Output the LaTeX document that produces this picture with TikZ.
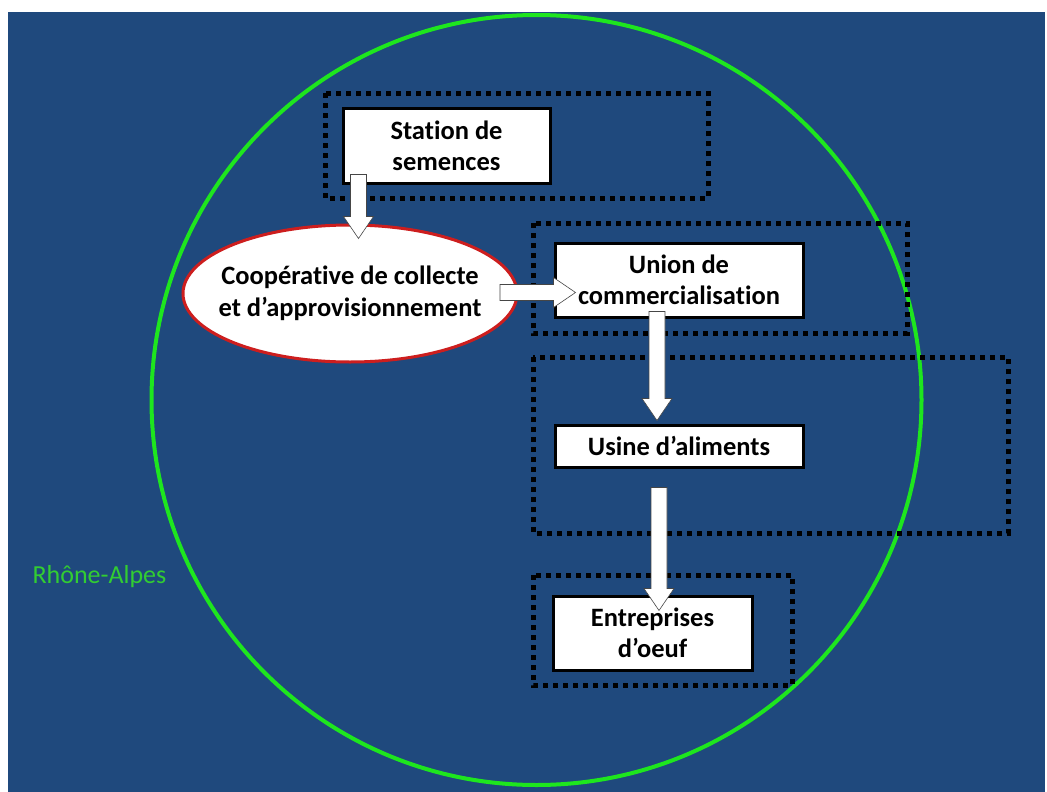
\documentclass[tikz,border=0pt]{standalone}
\usepackage{fontspec}
\setmainfont{Carlito}[RawFeature=-liga]
\usetikzlibrary{calc,shapes.geometric}
\definecolor{slidebg}{RGB}{31,73,125}
\definecolor{regiongreen}{RGB}{30,230,30}
\definecolor{labelgreen}{RGB}{50,205,50}
\definecolor{ovalred}{RGB}{205,30,30}
\definecolor{arrowgrey}{RGB}{70,70,70}

\tikzset{
  actor/.style={draw=black, line width=3pt, fill=white, align=center,
    font=\bfseries\fontsize{26.5}{31}\selectfont, inner sep=0pt},
  oval/.style={ellipse, draw=ovalred, line width=3pt, fill=white, align=center,
    font=\bfseries\fontsize{26.5}{32}\selectfont, inner xsep=-25pt, inner ysep=0pt},
  frame/.style={draw=black, line width=5pt, dash pattern=on 5pt off 5pt},
  blockarrow/.style={fill=white, draw=arrowgrey, line width=0.6pt, line join=miter},
}

% block arrow from #1 to the tip #2
\newcommand\blockarrow[2]{%
  \path (#1) coordinate (ba s) (#2) coordinate (ba e)
    ($(ba e)!22pt!(ba s)$) coordinate (ba h);
  \draw[blockarrow] ($(ba s)!8pt!90:(ba e)$) -- ($(ba h)!8pt!90:(ba e)$)
    -- ($(ba h)!15pt!90:(ba e)$) -- (ba e) -- ($(ba h)!15pt!-90:(ba e)$)
    -- ($(ba h)!8pt!-90:(ba e)$) -- ($(ba s)!8pt!-90:(ba e)$) -- cycle;}

\begin{document}
\begin{tikzpicture}[x=1pt,y=-1pt]
    \useasboundingbox (0,0) rectangle (1047,792);
    \fill[slidebg] (8,12) rectangle (1045,792);

    % region
    \draw[regiongreen, line width=4pt] (536.5,400) circle [radius=385];
    \node[text=labelgreen, font=\fontsize{26}{30}\selectfont, anchor=west] (region) at (29,577) {Rhône-Alpes};

    % dotted groups
    \draw[frame] (325,93) rectangle (708,198);
    \draw[frame] (533,223) rectangle (907,333);
    \draw[frame] (533,357) rectangle (1008,533);
    \draw[frame] (533,575) rectangle (792,685);

    % actors
    \node[actor, minimum width=207, minimum height=75] (station) at (446.5,145.5) {Station de\\semences};
    \node[oval, minimum width=334, minimum height=137] (coop) at (350,293.5) {Coopérative de collecte\\et d’approvisionnement};
    \node[actor, minimum width=248, minimum height=74] (union) at (679,280) {Union de\\commercialisation};
    \node[actor, minimum width=248, minimum height=42] (usine) at (679,446) {Usine d’aliments};
    \node[actor, minimum width=199, minimum height=74] (oeuf) at (652.5,633) {Entreprises\\d’oeuf};

    % flows
    \coordinate (s1) at ($(station.south west)+(17,-10)$);
    \coordinate (t1) at (s1 |- {$(coop.north)+(0,15)$});
    \blockarrow{s1}{t1}
    \coordinate (s2) at (500,292.5);
    \coordinate (t2) at ($(union.west)+(22,12.5)$);
    \blockarrow{s2}{t2}
    \coordinate (s3) at ($(union.south)+(-22,-7)$);
    \coordinate (t3) at (s3 |- {$(usine.north)+(0,-3)$});
    \blockarrow{s3}{t3}
    \coordinate (s4) at ($(usine.south)+(-20,19)$);
    \coordinate (t4) at (s4 |- {$(oeuf.north)+(0,16)$});
    \blockarrow{s4}{t4}
\end{tikzpicture}
\end{document}
